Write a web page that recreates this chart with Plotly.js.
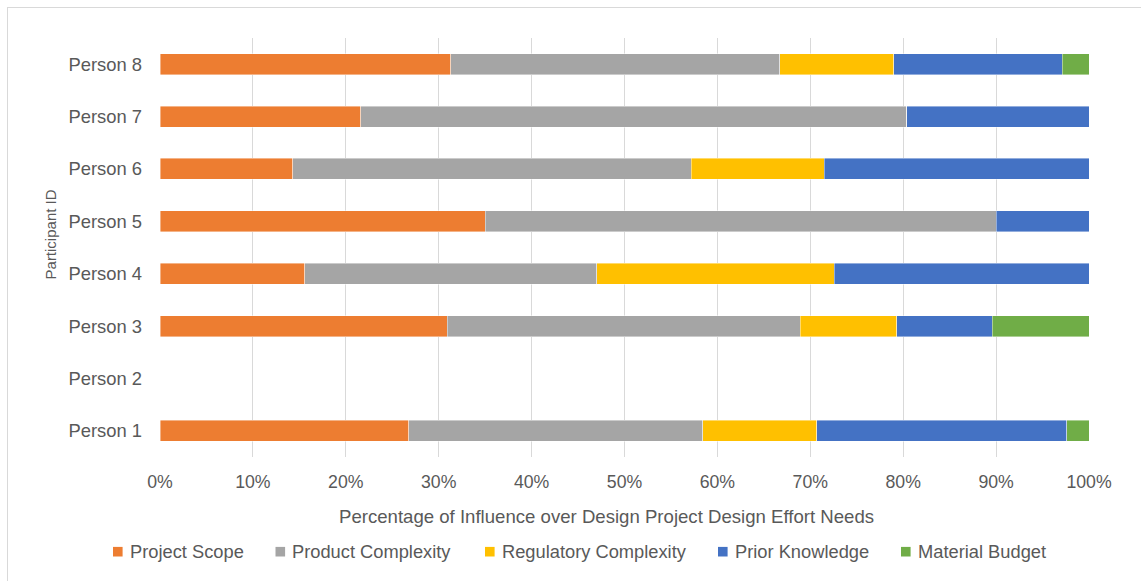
<!DOCTYPE html>
<html>
<head>
<meta charset="utf-8">
<script src="https://cdn.plot.ly/plotly-3.0.1.min.js"></script>
<style>
  html, body { margin: 0; padding: 0; background: #fff; overflow: hidden; }
  #chart { position: absolute; left: 0; top: 0; width: 1141px; height: 581px; }
  #frame { position: absolute; left: 7px; top: 7px; width: 1200px; height: 700px;
           border: 1px solid #d9d9d9; pointer-events: none; box-sizing: border-box; }
</style>
</head>
<body>
<div id="chart"></div>
<div id="frame"></div>
<script>
const categories = ['Person 1', 'Person 2', 'Person 3', 'Person 4', 'Person 5', 'Person 6', 'Person 7', 'Person 8'];
const seriesNames = ['Project Scope', 'Product Complexity', 'Regulatory Complexity', 'Prior Knowledge', 'Material Budget'];
const projectScope         = [26.8, null, 30.9, 15.6, 35.0, 14.3, 21.6, 31.3];
const productComplexity    = [31.6, null, 38.0, 31.4, 55.0, 42.9, 58.8, 35.4];
const regulatoryComplexity = [12.3, null, 10.4, 25.6, 0,    14.3, 0,    12.3];
const priorKnowledge       = [26.9, null, 10.3, 27.4, 10.0, 28.6, 19.6, 18.1];
const materialBudget       = [2.4,  null, 10.4, 0,    0,    0,    0,    2.9];
const xTickValues = [0, 10, 20, 30, 40, 50, 60, 70, 80, 90, 100];

const colors = ['#ED7D31', '#A5A5A5', '#FFC000', '#4472C4', '#70AD47'];
const values = [projectScope, productComplexity, regulatoryComplexity, priorKnowledge, materialBudget];

const FONT = 'Liberation Sans, Arial, sans-serif';
const TXT = '#595959';

// plot-area geometry (pixels) used to place the hand-built legend
const M = { l: 160, r: 52, t: 38, b: 124 };
const W = 1141, H = 581;
const PW = W - M.l - M.r, PH = H - M.t - M.b;
const px2x = p => (p - M.l) / PW;
const py2y = p => (H - M.b - p) / PH;
const legendSwatchLeft = [113, 275.5, 485, 718, 901];
const legendY = 551.7, swatch = 9.6, swatchTextGap = 4.9;

const data = values.map((v, i) => ({
  type: 'bar',
  orientation: 'h',
  name: seriesNames[i],
  y: categories,
  x: v,
  marker: { color: colors[i], line: { color: 'rgba(255,255,255,0.7)', width: 0.6 } },
  hoverinfo: 'name+x'
}));

const legendShapes = seriesNames.map((n, i) => ({
  type: 'rect', xref: 'paper', yref: 'paper',
  x0: px2x(legendSwatchLeft[i]), x1: px2x(legendSwatchLeft[i] + swatch),
  y0: py2y(legendY + swatch / 2), y1: py2y(legendY - swatch / 2),
  fillcolor: colors[i], line: { width: 0 }
}));
const legendLabels = seriesNames.map((n, i) => ({
  text: n, xref: 'paper', yref: 'paper',
  x: px2x(legendSwatchLeft[i] + swatch + swatchTextGap), y: py2y(legendY),
  xanchor: 'left', yanchor: 'middle', showarrow: false,
  font: { family: FONT, size: 18.3, color: TXT }
}));

const layout = {
  width: W,
  height: H,
  margin: { l: M.l, r: M.r, t: M.t, b: M.b, autoexpand: false },
  paper_bgcolor: '#ffffff',
  plot_bgcolor: '#ffffff',
  barmode: 'stack',
  bargap: 0.6,
  font: { family: FONT, color: TXT, size: 18 },
  showlegend: false,
  xaxis: {
    range: [0, 100],
    tickvals: xTickValues,
    ticktext: xTickValues.map(v => v + '%'),
    showgrid: true,
    gridcolor: '#d9d9d9',
    gridwidth: 1,
    zeroline: false,
    showline: false,
    ticks: '',
    ticklabelstandoff: 12,
    tickfont: { family: FONT, size: 17.7, color: TXT },
    fixedrange: true
  },
  yaxis: {
    type: 'category',
    categoryorder: 'array',
    categoryarray: categories,
    showgrid: false,
    zeroline: false,
    showline: false,
    ticks: '',
    ticklabelstandoff: 17,
    tickfont: { family: FONT, size: 18.4, color: TXT },
    fixedrange: true
  },
  shapes: legendShapes,
  annotations: [
    {
      text: 'Percentage of Influence over Design Project Design Effort Needs',
      xref: 'paper', yref: 'paper',
      x: 0.481, y: -0.1425, xanchor: 'center', yanchor: 'middle',
      showarrow: false,
      font: { family: FONT, size: 18.6, color: TXT }
    },
    {
      text: 'Participant ID',
      xref: 'paper', yref: 'paper',
      x: -0.118, y: 0.532, xanchor: 'center', yanchor: 'middle',
      textangle: -90,
      showarrow: false,
      font: { family: FONT, size: 15, color: TXT }
    }
  ].concat(legendLabels)
};

Plotly.newPlot('chart', data, layout, { displayModeBar: false, staticPlot: true });
</script>
</body>
</html>
